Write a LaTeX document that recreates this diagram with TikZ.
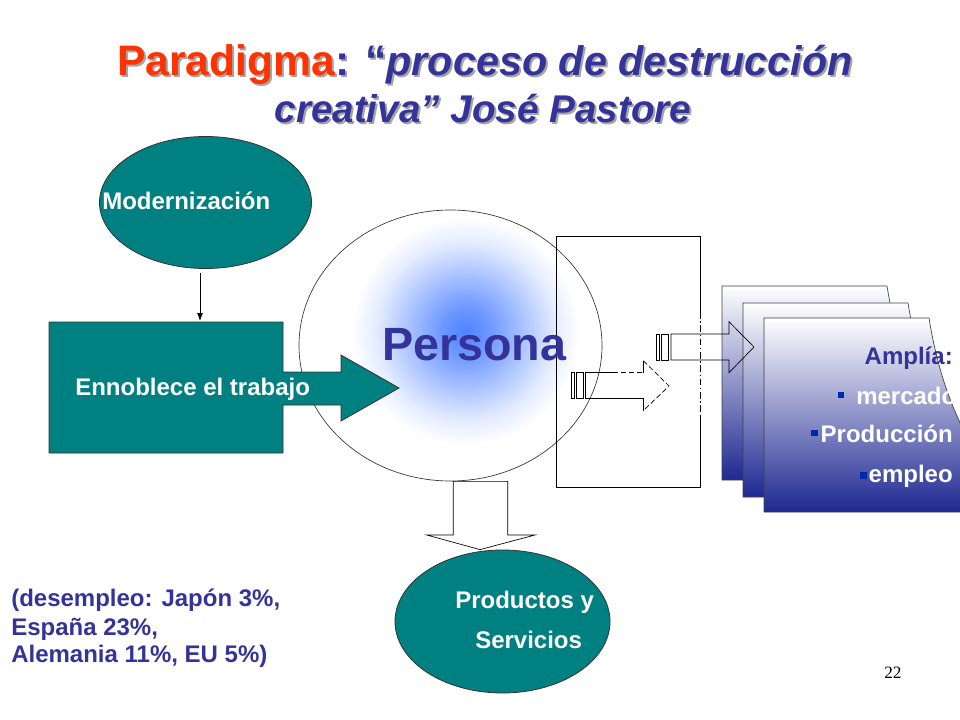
\documentclass[tikz,border=0pt]{standalone}
\usepackage{fontspec}
\setmainfont{Liberation Sans}
\newfontfamily\numfont{Liberation Serif}
\usetikzlibrary{shapes.geometric,arrows.meta,calc}
\definecolor{tealc}{RGB}{0,128,128}
\definecolor{dblue}{RGB}{51,51,153}
\definecolor{torange}{RGB}{255,51,0}
\definecolor{shadowc}{RGB}{165,165,165}
\definecolor{pblue}{RGB}{80,130,255}
\definecolor{pblueA}{RGB}{110,152,255}
\definecolor{pblueB}{RGB}{175,198,255}
\definecolor{pblueC}{RGB}{228,236,255}
\definecolor{pgblue}{RGB}{30,40,145}
\definecolor{bulletc}{RGB}{0,40,170}
\pgfdeclareradialshading{pshade}{\pgfpointorigin}{color(0bp)=(pblue); color(2bp)=(pblueA); color(5bp)=(pblueB); color(7.5bp)=(pblueC); color(9.5bp)=(white); color(50bp)=(white)}
\newcommand{\titlelineA}[2]{{\color{#1}\fontsize{32}{36}\selectfont Paradigma}{\color{#2}\fontsize{32}{36}\selectfont: “}{\color{#2}\itshape\fontsize{31}{36}\selectfont proceso de destrucción}}
\newcommand{\titlelineB}[1]{{\color{#1}\itshape\fontsize{29}{34}\selectfont creativa” José Pastore}}
\begin{document}
\begin{tikzpicture}[x=0.75pt,y=-0.75pt,
  tealfill/.style={fill=tealc, draw=black!80, line width=0.6pt},
  outl/.style={draw=black, line width=0.5pt},
  wtext/.style={text=white, font=\bfseries\fontsize{18}{21}\selectfont, inner sep=0pt},
  btext/.style={text=dblue, font=\bfseries\fontsize{18}{21}\selectfont, inner sep=0pt},
  bullet/.style={fill=bulletc, draw=none, inner sep=0pt, minimum size=4.8pt, rectangle},
  pageshade/.style={top color=white, bottom color=pgblue, draw=black!75, line width=0.5pt},
  titletext/.style={inner sep=0pt, anchor=base, font=\bfseries}
]
\useasboundingbox (0,0) rectangle (960,720);

% ---- title ----
\node[titletext] (t1s) at (487,78) {\titlelineA{shadowc}{shadowc}};
\node[titletext] (t1) at (485,76) {\titlelineA{torange}{dblue}};
\node[titletext] (t2s) at (485,125) {\titlelineB{shadowc}};
\node[titletext] (t2) at (483,123) {\titlelineB{dblue}};

% ---- Persona circle ----
\node[ellipse, minimum width=227.25pt, minimum height=203.25pt, inner sep=0pt,
      draw=black!80, line width=0.5pt, fill=white,
      path picture={\shade[shading=pshade]
        ($(path picture bounding box.center)+(15,-14)$) circle (300);}]
      (persona) at (450.5,345.5) {};

% ---- Ennoblece shape ----
\path[tealfill] (49,322) -- (283,322) -- (283,372) -- (341,372) -- (341,355)
  -- (399,388) -- (341,421) -- (341,405) -- (283,405) -- (283,453) -- (49,453) -- cycle;
\coordinate (ennobtop) at (200,321);
\node[wtext, anchor=base west] (ennobtxt) at (75,395) {Ennoblece el trabajo};

% ---- Modernizacion ----
\node[ellipse, tealfill, minimum width=159pt, minimum height=99pt, inner sep=0pt]
  (modern) at (205.5,202.5) {};
\node[wtext, anchor=base west] (moderntxt) at (102,210) {Modernización};
\coordinate (modbot) at (200,273);
\draw[line width=0.6pt, -{Latex[length=6pt,width=4.5pt]}] (modbot) -- (ennobtop);

% ---- tall frame ----
\draw[outl] (700,312) -- (700,236) -- (556,236) -- (556,487) -- (700,487) -- (700,415);
\draw[outl, dash pattern=on 5pt off 2pt on 1pt off 2pt] (700,312) -- (700,415);

% ---- stacked pages ----
\foreach \px/\py in {722/286, 743/303, 764/318} {
  \begin{scope}[shift={(\px,\py)}]
    \shade[pageshade] (0,0) -- (165,0) .. controls (173,50) and (186,85) .. (201,115)
      -- (201,194) -- (0,194) -- cycle;
  \end{scope}
}

% ---- striped arrows ----
\draw[outl] (656.7,334) rectangle (659.3,360);
\draw[outl] (661.7,334) rectangle (668.3,360);
\draw[outl] (671,334) -- (729,334) -- (729,321.7) -- (754,347) -- (729,372.7)
  -- (729,360) -- (671,360) -- cycle;

\draw[outl] (571,372.7) rectangle (574.3,398.3);
\draw[outl] (576.7,372.7) rectangle (583.3,398.3);
\draw[outl] (613,372.7) -- (585.7,372.7) -- (585.7,398.3) -- (643.3,398.3) -- (643.3,410.7);
\draw[outl, dash pattern=on 4pt off 2pt] (613,372.7) -- (643.3,372.7);
\draw[outl] (643.3,372.7) -- (643.3,360.7);
\draw[outl, dash pattern=on 4pt off 2pt] (643.3,360.7) -- (669,386) -- (643.3,410.7);

% ---- Productos ----
\node[ellipse, tealfill, minimum width=161.25pt, minimum height=107.25pt, inner sep=0pt]
  (prod) at (502.5,621.5) {};
\draw[outl, fill=white] (persona.south -| 453.3,0) -- (persona.south -| 507.7,0)
  -- (507.7,535) -- (535,535) -- (prod.north -| 480,0) -- (426.7,535) -- (453.3,535) -- cycle;
\node[wtext, anchor=base west] (prodtxt1) at (455,608) {Productos y};
\node[wtext, anchor=base west] (prodtxt2) at (475,648) {Servicios};

% ---- Persona label ----
\node[anchor=base west, inner sep=0pt, text=dblue, font=\bfseries\fontsize{35}{40}\selectfont]
  (personatxt) at (382,360) {Persona};

% ---- page texts ----
\node[btext, anchor=base east] (ampl) at (953,364) {Amplía:};
\node[bullet] (b1) at (841,395) {};
\node[wtext, anchor=base west] (merc) at (856,404) {mercado};
\node[bullet] (b2) at (814.5,433) {};
\node[wtext, anchor=base east] (produc) at (953,442) {Producción};
\node[bullet] (b3) at (863.5,475.3) {};
\node[wtext, anchor=base east] (empl) at (953,482) {empleo};

% ---- left note ----
\node[btext, anchor=base west] (d1) at (11,606.7) {(desempleo: Japón 3\%,};
\node[btext, anchor=base west] (d2) at (11,635) {España 23\%,};
\node[btext, anchor=base west] (d3) at (11,662.7) {Alemania 11\%, EU 5\%)};

% ---- page number ----
\node[anchor=base west, inner sep=0pt, font=\numfont\fontsize{13}{15}\selectfont] (pnum) at (884,678) {22};
\end{tikzpicture}
\end{document}
